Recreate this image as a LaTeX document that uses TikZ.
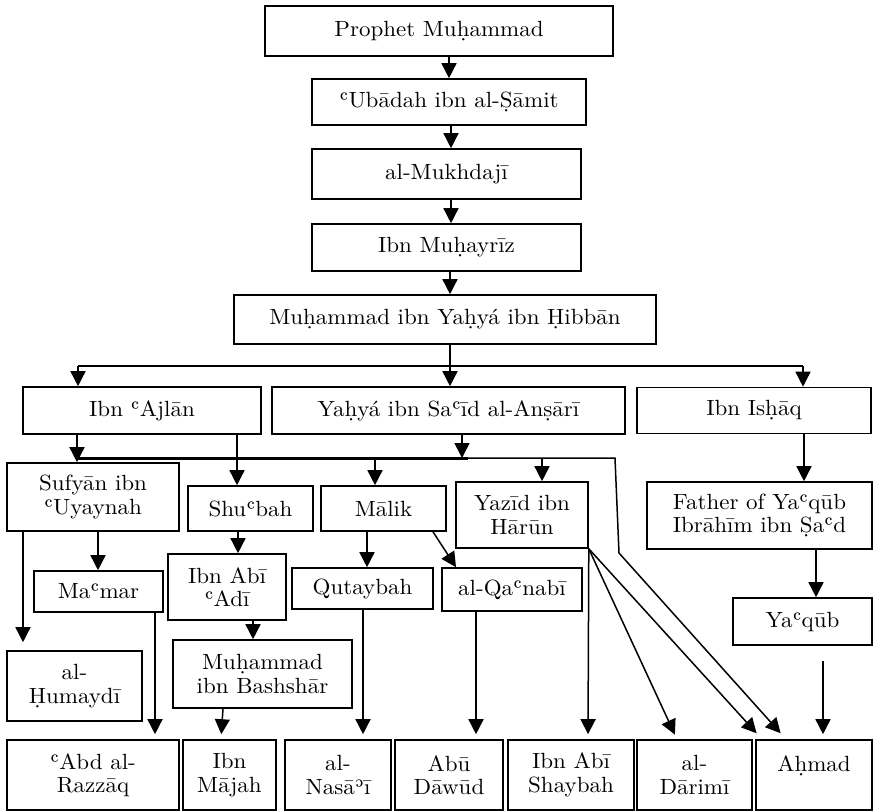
\documentclass[tikz,border=0pt]{standalone}
\usepackage{fontspec}
\setmainfont{lmroman10-regular}[Extension=.otf, FakeStretch=1.045]
\usetikzlibrary{arrows.meta}

\begin{document}
\begin{tikzpicture}[x=1pt, y=-1pt,
    namebox/.style={draw, line width=1.6pt, align=center, inner sep=0pt,
        font=\fontsize{22}{23.5}\selectfont},
    link/.style={line width=1.5pt},
    conn/.style={line width=1.5pt, -{Triangle[width=15pt,length=15pt]}}]
    %\draw[help lines] (0,0) grid (873,811);
    \useasboundingbox (0,0) rectangle (873,811);

    \node[namebox, minimum width=348pt, minimum height=50pt] (prophet) at (439,31) {Prophet Muḥammad};
    \node[namebox, minimum width=274pt, minimum height=46pt] (ubadah) at (449,102) {ʿUbādah ibn al-Ṣāmit};
    \node[namebox, minimum width=269pt, minimum height=50pt] (mukhdaji) at (446.5,174) {al-Mukhdajī};
    \node[namebox, minimum width=269pt, minimum height=47pt] (muhayriz) at (446.5,247.5) {Ibn Muḥayrīz};
    \node[namebox, minimum width=422pt, minimum height=49pt] (hibban) at (445,319.5) {Muḥammad ibn Yaḥyá ibn Ḥibbān};

    \node[namebox, minimum width=238pt, minimum height=47pt] (ajlan) at (142,410.5) {Ibn ʿAjlān};
    \node[namebox, minimum width=353pt, minimum height=47pt] (ansari) at (448.5,410.5) {Yaḥyá ibn Saʿīd al-Anṣārī};
    \node[namebox, minimum width=234pt, minimum height=46pt] (ishaq) at (754,410.5) {Ibn Isḥāq};

    \node[namebox, minimum width=172pt, minimum height=68pt] (sufyan) at (93,497) {Sufyān ibn\\ʿUyaynah};
    \node[namebox, minimum width=125pt, minimum height=45pt] (shubah) at (250.5,508.5) {Shuʿbah};
    \node[namebox, minimum width=125pt, minimum height=45pt] (malik) at (383.5,508.5) {Mālik};
    \node[namebox, minimum width=132pt, minimum height=66pt] (yazid) at (522,515) {Yazīd ibn\\Hārūn};
    \node[namebox, minimum width=225pt, minimum height=67pt] (father) at (759.5,515.5) {Father of Yaʿqūb\\Ibrāhīm ibn Ṣaʿd};

    \node[namebox, minimum width=129pt, minimum height=41pt] (mamar) at (98.5,591.5) {Maʿmar};
    \node[namebox, minimum width=118pt, minimum height=66pt] (abiadi) at (227,587) {Ibn Abī\\ʿAdī};
    \node[namebox, minimum width=141pt, minimum height=41pt] (qutaybah) at (362.5,588.5) {Qutaybah};
    \node[namebox, minimum width=140pt, minimum height=43pt] (qanabi) at (512,589.5) {al-Qaʿnabī};
    \node[namebox, minimum width=139pt, minimum height=47pt] (yaqub) at (802.5,621.5) {Yaʿqūb};

    \node[namebox, minimum width=135pt, minimum height=70pt] (humaydi) at (74.5,686) {al-\\Ḥumaydī};
    \node[namebox, minimum width=179pt, minimum height=68pt] (bashshar) at (262.5,674) {Muḥammad\\ibn Bashshār};

    \node[namebox, minimum width=172pt, minimum height=70pt] (razzaq) at (93,775) {ʿAbd al-\\Razzāq};
    \node[namebox, minimum width=93pt, minimum height=70pt] (majah) at (229.5,775) {Ibn\\Mājah};
    \node[namebox, minimum width=106pt, minimum height=70pt] (nasai) at (338,775) {al-\\Nasāʾī};
    \node[namebox, minimum width=108pt, minimum height=70pt] (dawud) at (449,775) {Abū\\Dāwūd};
    \node[namebox, minimum width=126pt, minimum height=70pt] (shaybah) at (571,775) {Ibn Abī\\Shaybah};
    \node[namebox, minimum width=115pt, minimum height=70pt] (darimi) at (694.5,775) {al-\\Dārimī};
    \node[namebox, minimum width=116pt, minimum height=70pt] (ahmad) at (814,775) {Aḥmad\\\mbox{}};

    % chain at the top
    \draw[conn] ([xshift=10pt]prophet.south) -- (ubadah.north);
    \draw[conn] ([xshift=2pt]ubadah.south) -- ([xshift=4.5pt]mukhdaji.north);
    \draw[conn] ([xshift=4.5pt]mukhdaji.south) -- ([xshift=4.5pt]muhayriz.north);
    \draw[conn] ([xshift=3.5pt]muhayriz.south) -- ([xshift=5pt]hibban.north);

    \coordinate (split) at (450,366);
    \coordinate (splitL) at (78,366);
    \coordinate (splitR) at (803,366);
    \draw[link] ([xshift=5pt]hibban.south) -- (split);
    \draw[link] (splitL) -- (splitR);
    \draw[conn] (splitL) -- ([xshift=-64pt]ajlan.north);
    \draw[conn] (split) -- ([xshift=1.5pt]ansari.north);
    \draw[conn] (splitR) -- ([xshift=49pt]ishaq.north);

    % the long bar under Ibn Ajlan and Yahya
    \coordinate (busL) at (77,458);
    \coordinate (malikIn) at (375,458);
    \coordinate (busJ) at (462,458);
    \coordinate (busM) at (468,458);
    \coordinate (yazidIn) at (542,458);
    \coordinate (busR) at (615,458);
    \coordinate (bend) at (619,553);
    \draw[line width=3pt] (busL) -- (busM);
    \draw[link] (busM) -- (busR) -- (bend);
    \draw[conn] ([xshift=-65pt]ajlan.south) -- ([xshift=-16pt]sufyan.north);
    \draw[conn] ([xshift=95pt]ajlan.south) -- ([xshift=-13.5pt]shubah.north);
    \draw[conn] ([xshift=13.5pt]ansari.south) -- (busJ);
    \draw[conn] (malikIn) -- (malikIn |- malik.north);
    \draw[conn] (yazidIn) -- (yazidIn |- yazid.north);

    \draw[conn] ([xshift=5pt]sufyan.south) -- ([xshift=-0.5pt]mamar.north);
    \draw[conn, shorten >=8pt] ([xshift=-70pt]sufyan.south) -- ([xshift=-51.5pt]humaydi.north);
    \draw[conn] ([xshift=-12.5pt]shubah.south) -- ([xshift=11pt]abiadi.north);
    \draw[conn] ([xshift=-16.5pt]malik.south) -- ([xshift=4.5pt]qutaybah.north);
    \draw[conn] ([xshift=49.5pt]malik.south) -- ([xshift=-56pt]qanabi.north);
    \draw[conn] ([xshift=26pt]abiadi.south) -- ([xshift=-9.5pt]bashshar.north);
    \draw[conn] ([xshift=50pt]ishaq.south) -- ([xshift=44.5pt]father.north);
    \draw[conn] ([xshift=56.5pt]father.south) -- ([xshift=13.5pt]yaqub.north);

    % into the bottom row
    \begin{scope}[shorten >=5pt]
    \draw[conn] ([xshift=56.5pt]mamar.south) -- ([xshift=62pt]razzaq.north);
    \draw[conn] ([xshift=-39.5pt]bashshar.south) -- ([xshift=-8.5pt]majah.north);
    \draw[conn] ([xshift=0.5pt]qutaybah.south) -- ([xshift=25pt]nasai.north);
    \draw[conn] ([xshift=-36pt]qanabi.south) -- ([xshift=27pt]dawud.north);
    \draw[conn] (yazid.south east) -- ([xshift=17pt]shaybah.north);
    \draw[conn] (yazid.south east) -- ([xshift=-17.5pt]darimi.north);
    \draw[conn, shorten >=8pt] (yazid.south east) -- ([xshift=-52pt]ahmad.north);
    \draw[conn, shorten >=8pt] (bend) -- ([xshift=-28pt]ahmad.north);
    \draw[conn] ([xshift=20.5pt,yshift=-15pt]yaqub.south) -- ([xshift=9pt]ahmad.north);
    \end{scope}
\end{tikzpicture}
\end{document}
